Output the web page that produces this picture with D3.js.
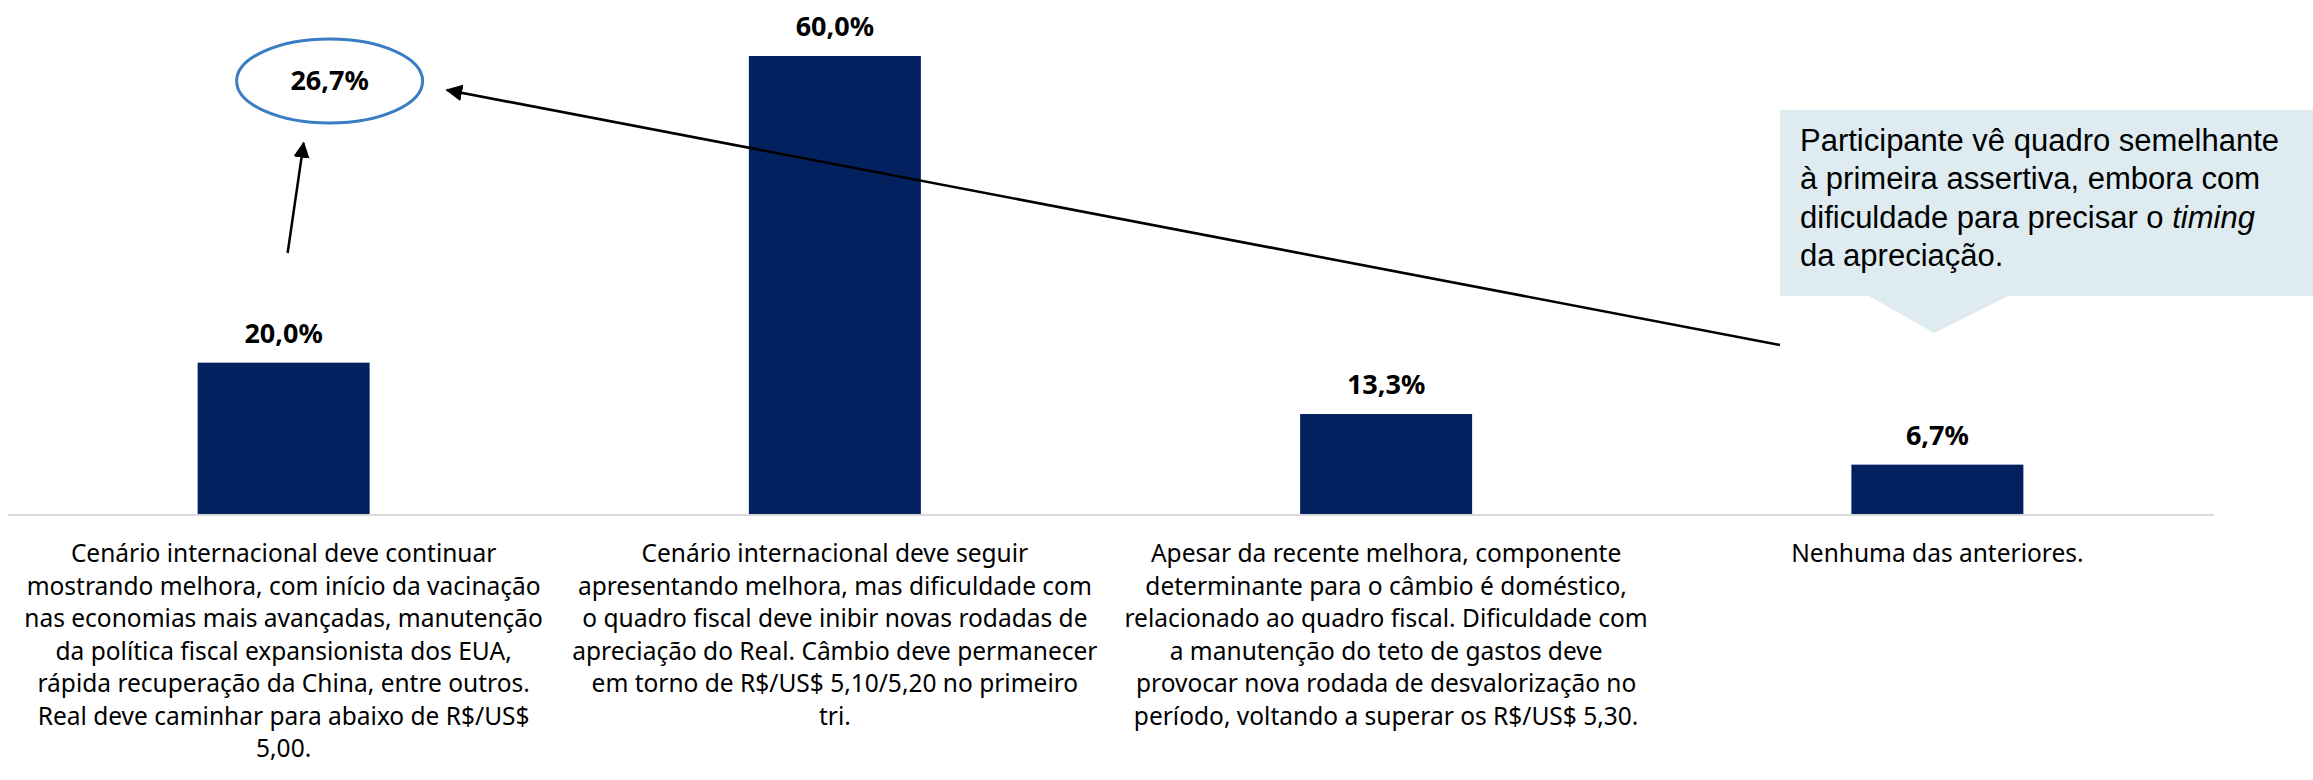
<!DOCTYPE html>
<html lang="pt">
<head>
<meta charset="utf-8">
<title>Câmbio - respostas</title>
<script src="https://d3js.org/d3.v7.min.js"></script>
<style>
  body { margin: 0; background: #fff; }
  svg { display: block; }
</style>
</head>
<body>
<script>

var w = 2313;
var h = 780;

// data
var categories = ["A", "B", "C", "D"];
var values = [20.0, 60.0, 13.3, 6.7];
var valueLabels = ["20,0%", "60,0%", "13,3%", "6,7%"];
var categoryLines = [
  ["Cenário internacional deve continuar",
   "mostrando melhora, com início da vacinação",
   "nas economias mais avançadas, manutenção",
   "da política fiscal expansionista dos EUA,",
   "rápida recuperação da China, entre outros.",
   "Real deve caminhar para abaixo de R$/US$",
   "5,00."],
  ["Cenário internacional deve seguir",
   "apresentando melhora, mas dificuldade com",
   "o quadro fiscal deve inibir novas rodadas de",
   "apreciação do Real. Câmbio deve permanecer",
   "em torno de R$/US$ 5,10/5,20 no primeiro",
   "tri."],
  ["Apesar da recente melhora, componente",
   "determinante para o câmbio é doméstico,",
   "relacionado ao quadro fiscal. Dificuldade com",
   "a manutenção do teto de gastos deve",
   "provocar nova rodada de desvalorização no",
   "período, voltando a superar os R$/US$ 5,30."],
  ["Nenhuma das anteriores."]
];
var combinedLabel = "26,7%";
var calloutLines = [
  [{t: "Participante vê quadro semelhante"}],
  [{t: "à primeira assertiva, embora com"}],
  [{t: "dificuldade para precisar o "}, {t: "timing", i: true}],
  [{t: "da apreciação."}]
];

var margin = {top: 56, right: 100, bottom: 264, left: 8};
var baseY = h - margin.bottom;

var svg = d3.select("body").append("svg")
  .attr("width", w)
  .attr("height", h);

var x = d3.scaleBand()
  .domain(categories)
  .range([margin.left, 2213])
  .paddingInner(0.688)
  .paddingOuter(0.344);

var y = d3.scaleLinear()
  .domain([0, 60])
  .range([baseY, margin.top]);

var defs = svg.append("defs");
defs.append("marker")
  .attr("id", "head")
  .attr("viewBox", "0 0 10 10")
  .attr("refX", 9)
  .attr("refY", 5)
  .attr("markerWidth", 6.5)
  .attr("markerHeight", 6.5)
  .attr("markerUnits", "strokeWidth")
  .attr("orient", "auto")
  .append("path")
  .attr("d", "M0,0 L10,5 L0,10 z")
  .attr("fill", "#000");

// bars
svg.selectAll(".bar")
  .data(values)
  .enter().append("rect")
  .attr("class", "bar")
  .attr("x", function(d, i) { return x(categories[i]); })
  .attr("y", function(d) { return y(d); })
  .attr("width", x.bandwidth())
  .attr("height", function(d) { return baseY - y(d); })
  .attr("fill", "#03215e");

// axis line
var xAxis = d3.axisBottom(x).tickSize(0).tickFormat("");
svg.append("g")
  .attr("transform", "translate(0," + (baseY - 1) + ")")
  .call(xAxis)
  .call(function(g) {
    g.select(".domain").attr("stroke", "#d9d9d9").attr("stroke-width", 2)
      .attr("d", "M" + margin.left + ",0H2214");
  });

// value labels
svg.selectAll(".vlabel")
  .data(values)
  .enter().append("text")
  .attr("class", "vlabel")
  .attr("x", function(d, i) { return x(categories[i]) + x.bandwidth() / 2; })
  .attr("y", function(d) { return y(d) - 20; })
  .attr("text-anchor", "middle")
  .style("font-family", "'Noto Sans', sans-serif")
  .style("font-weight", "bold")
  .style("font-size", "27px")
  .style("fill", "#000")
  .text(function(d, i) { return valueLabels[i]; });

// category labels
svg.selectAll(".clabel")
  .data(categoryLines)
  .enter().append("text")
  .attr("class", "clabel")
  .attr("text-anchor", "middle")
  .style("font-family", "'Noto Sans', sans-serif")
  .style("font-size", "24.5px")
  .style("fill", "#000")
  .each(function(lines, i) {
    var cx = x(categories[i]) + x.bandwidth() / 2;
    d3.select(this).selectAll("tspan")
      .data(lines)
      .enter().append("tspan")
      .attr("x", cx)
      .attr("y", function(d, j) { return baseY + 46 + j * 32.5; })
      .text(function(d) { return d; });
  });

// ellipse with the combined share
var c0 = x(categories[0]) + x.bandwidth() / 2;
var ex = c0 + 46, ey = 81;
svg.append("ellipse")
  .attr("cx", ex)
  .attr("cy", ey)
  .attr("rx", 93)
  .attr("ry", 42)
  .attr("fill", "none")
  .attr("stroke", "#3b7dc2")
  .attr("stroke-width", 3);

svg.append("text")
  .attr("x", ex)
  .attr("y", ey + 9)
  .attr("text-anchor", "middle")
  .style("font-family", "'Noto Sans', sans-serif")
  .style("font-weight", "bold")
  .style("font-size", "27px")
  .text(combinedLabel);

// arrows
svg.append("line")
  .attr("x1", c0 + 4).attr("y1", 253)
  .attr("x2", c0 + 20).attr("y2", 143)
  .attr("stroke", "#000")
  .attr("stroke-width", 2.5)
  .attr("marker-end", "url(#head)");

svg.append("line")
  .attr("x1", 1780).attr("y1", 345)
  .attr("x2", 447).attr("y2", 90)
  .attr("stroke", "#000")
  .attr("stroke-width", 2.6)
  .attr("marker-end", "url(#head)");

// callout
var bx = 1780, by = 110, bw = w - 1780, bh = 186;
svg.append("path")
  .attr("d", "M" + bx + "," + by + "h" + bw + "v" + bh +
    "H2008L1934,333L1869," + (by + bh) + "H" + bx + "Z")
  .attr("fill", "#deebf0");

var ct = svg.append("text")
  .style("font-family", "'Liberation Sans', Arial, sans-serif")
  .style("font-size", "31px")
  .style("fill", "#000");
calloutLines.forEach(function(parts, j) {
  parts.forEach(function(p, k) {
    var ts = ct.append("tspan").text(p.t);
    if (k === 0) ts.attr("x", 1800).attr("y", 151 + j * 38.3);
    if (p.i) ts.style("font-style", "italic");
  });
});

</script>
</body>
</html>
